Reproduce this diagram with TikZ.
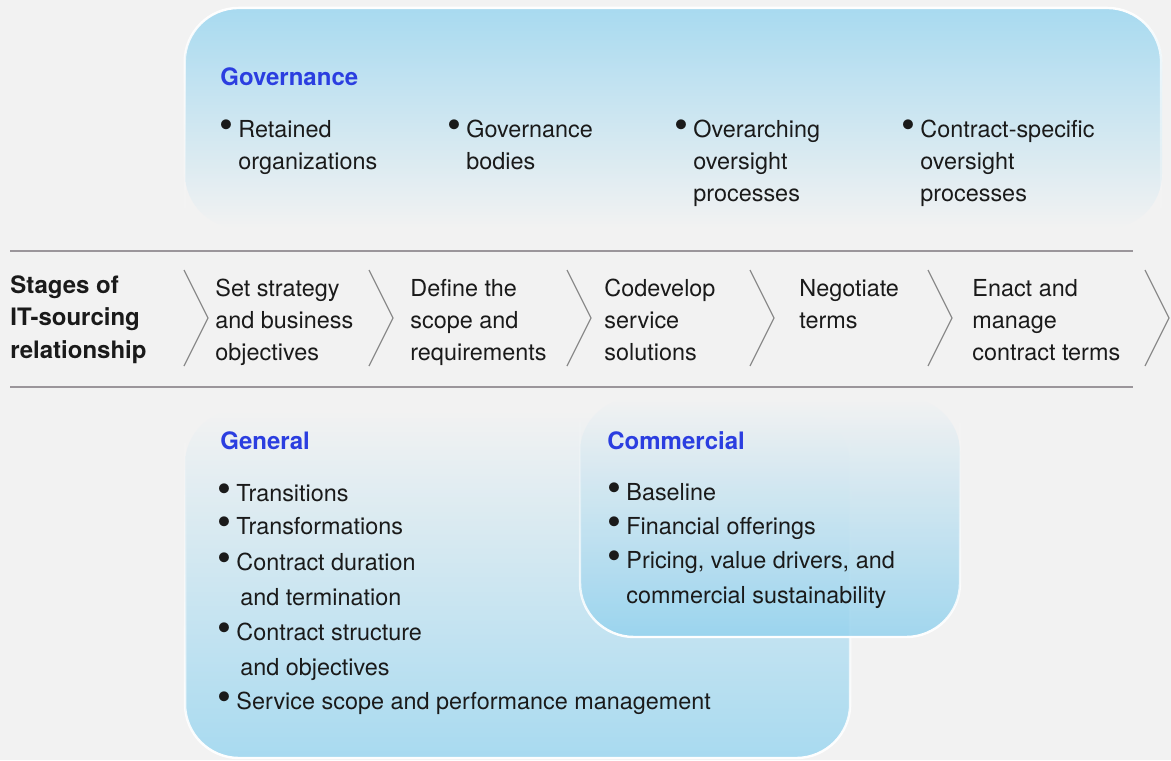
\documentclass[tikz,border=0pt]{standalone}
\usepackage{fontspec}
\setmainfont{TeX Gyre Heros}
\usetikzlibrary{fadings}

\definecolor{bgc}{RGB}{242,242,242}
\definecolor{skyc}{RGB}{168,218,240}
\definecolor{comc}{RGB}{148,210,238}
\definecolor{headc}{RGB}{43,62,224}
\definecolor{txtc}{RGB}{26,26,26}
\definecolor{rulec}{RGB}{155,150,155}
\definecolor{chevc}{RGB}{140,140,140}

\tikzset{
  itemtxt/.style={anchor=base west, inner sep=0pt, align=left, text=txtc,
    font=\fontsize{11.7}{16}\selectfont},
  listtxt/.style={itemtxt, font=\fontsize{11.7}{17.4}\selectfont},
  headtxt/.style={anchor=base west, inner sep=0pt, text=headc,
    font=\fontsize{12}{16}\selectfont\bfseries},
  labeltxt/.style={anchor=base west, inner sep=0pt, align=left, text=txtc,
    font=\fontsize{12}{16.25}\selectfont\bfseries},
  rule/.style={rulec, line width=1pt},
  chev/.style={chevc, line width=0.6pt},
  rim/.style={white, line width=1.2pt, rounded corners=27pt}
}
% bullet hung left of the text
\newcommand{\bul}{\llap{\smash{\raisebox{-0.6pt}{\scalebox{1.7}{\textbullet}}}\hspace{2.5pt}}}

\begin{document}
% anchors are the baselines of the last lines
\begin{tikzpicture}[x=0.5pt, y=-0.5pt]
    \useasboundingbox (0,0) rectangle (1171,760);
    \fill[bgc] (0,0) rectangle (1171,760);

    % boxes
    \shade[rounded corners=27pt, top color=skyc, bottom color=bgc]
      (185,228) -- (185,8) -- (1162,8) -- (1162,228) -- cycle;
    \draw[rim, path fading=south] (185,222) -- (185,8) -- (1162,8) -- (1162,222);

    \shade[rounded corners=27pt, top color=bgc, bottom color=skyc]
      (185,410) -- (185,758) -- (850,758) -- (850,410) -- cycle;
    \draw[rim, path fading=north] (185,418) -- (185,758) -- (850,758) -- (850,418);

    \shade[rounded corners=27pt, top color=bgc, bottom color=comc, opacity=0.85]
      (580,398) -- (580,637) -- (960,637) -- (960,398) -- cycle;
    \draw[rim, path fading=north] (580,406) -- (580,637) -- (960,637) -- (960,406);

    % stages
    \draw[rule] (10,251) -- (1133,251);
    \draw[rule] (10,387) -- (1133,387);
    \foreach \x in {184,369,567,750,928,1145}
      \draw[chev] (\x,270) -- (\x+24,318) -- (\x,366);

    \node (stg) at (10,358) [labeltxt] {Stages of\\IT-sourcing\\relationship};
    \node (s1) at (215,360) [itemtxt] {Set strategy\\and business\\objectives};
    \node (s2) at (410,360) [itemtxt] {Define the\\scope and\\requirements};
    \node (s3) at (604,360) [itemtxt] {Codevelop\\service\\solutions};
    \node (s4) at (799,328) [itemtxt] {Negotiate\\terms};
    \node (s5) at (972,360) [itemtxt] {Enact and\\manage\\contract terms};

    % governance
    \node (gov) at (220,85) [headtxt] {Governance};
    \node (gov1) at (238,169) [itemtxt] {\bul Retained\\organizations};
    \node (gov2) at (466,169) [itemtxt] {\bul Governance\\bodies};
    \node (gov3) at (693,201) [itemtxt] {\bul Overarching\\oversight\\processes};
    \node (gov4) at (920,201) [itemtxt] {\bul Contract-specific\\oversight\\processes};

    % general
    \node (gen) at (220,449) [headtxt] {General};
    \node (gen1) at (236,501) [listtxt] {\bul Transitions};
    \node (gen2) at (236,534) [listtxt] {\bul Transformations};
    \node (gen3) at (236,605) [listtxt] {\bul Contract duration\\\hspace{2pt}and termination};
    \node (gen4) at (236,675) [listtxt] {\bul Contract structure\\\hspace{2pt}and objectives};
    \node (gen5) at (236,709) [listtxt] {\bul Service scope and performance management};

    % commercial
    \node (com) at (607,449) [headtxt] {Commercial};
    \node (com1) at (626,500) [listtxt] {\bul Baseline};
    \node (com2) at (626,534) [listtxt] {\bul Financial offerings};
    \node (com3) at (626,603) [listtxt] {\bul Pricing, value drivers, and\\commercial sustainability};

\end{tikzpicture}
\end{document}
